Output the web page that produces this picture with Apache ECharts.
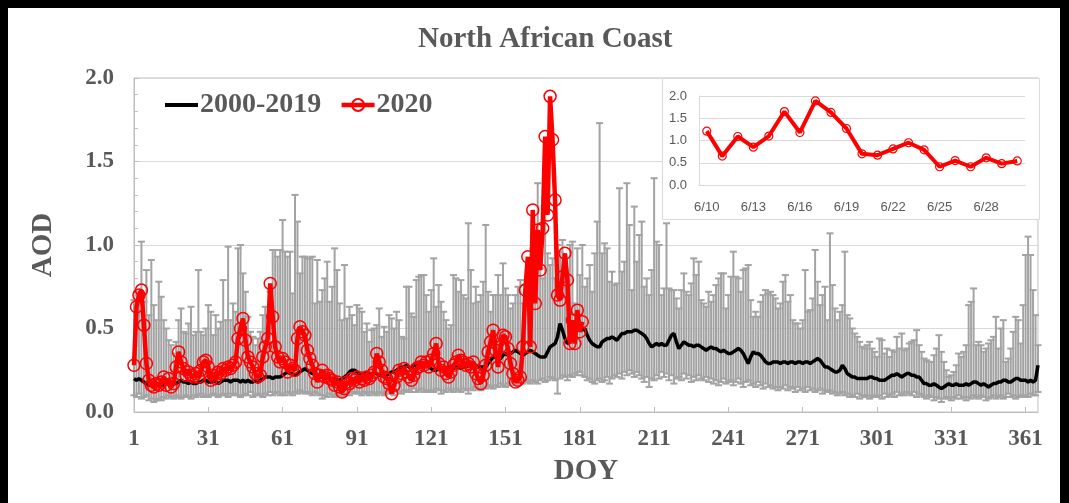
<!DOCTYPE html>
<html>
<head>
<meta charset="utf-8">
<script src="https://cdn.jsdelivr.net/npm/echarts@6/dist/echarts.min.js"></script>
<style>
html,body{margin:0;padding:0;background:#fff;}
#wrap{position:relative;width:1069px;height:503px;overflow:hidden;}
#chart{position:absolute;left:0;top:0;width:1069px;height:503px;}
.frame{position:absolute;background:#000;}
</style>
</head>
<body>
<div id="wrap">
<div id="chart"></div>
<div class="frame" style="left:0;top:0;width:1069px;height:8px;"></div>
<div class="frame" style="left:0;top:0;width:8px;height:503px;"></div>
<div class="frame" style="left:1060px;top:0;width:9px;height:503px;"></div>
</div>
<script>
// ---- DATA ----
const TITLE = 'North African Coast';
const SERIES_NAMES = ['2000-2019', '2020'];
const Y_TICKS = [0.0, 0.5, 1.0, 1.5, 2.0];
// Day-of-year categories 1..366
const DOY = Array.from({length: 366}, (_, i) => String(i + 1));

// 2000-2019 mean AOD
const MEAN = [
0.20,0.19,0.20,0.19,0.18,0.17,0.16,0.16,0.17,0.16,
0.16,0.17,0.16,0.17,0.17,0.18,0.17,0.17,0.18,0.19,
0.18,0.18,0.17,0.18,0.17,0.17,0.18,0.18,0.19,0.19,
0.18,0.18,0.19,0.18,0.17,0.18,0.19,0.19,0.19,0.18,
0.19,0.19,0.19,0.18,0.19,0.18,0.19,0.18,0.18,0.19,
0.18,0.19,0.20,0.21,0.21,0.21,0.20,0.21,0.21,0.21,
0.22,0.23,0.24,0.23,0.23,0.22,0.23,0.24,0.25,0.26,
0.25,0.24,0.23,0.23,0.22,0.21,0.21,0.20,0.21,0.20,
0.20,0.20,0.19,0.19,0.20,0.21,0.22,0.24,0.25,0.25,
0.24,0.23,0.23,0.23,0.23,0.23,0.22,0.23,0.23,0.22,
0.22,0.21,0.22,0.23,0.24,0.24,0.25,0.26,0.27,0.27,
0.28,0.27,0.26,0.28,0.28,0.27,0.27,0.28,0.28,0.27,
0.26,0.25,0.25,0.26,0.26,0.25,0.26,0.27,0.27,0.26,
0.27,0.27,0.26,0.27,0.27,0.28,0.27,0.27,0.28,0.27,
0.27,0.27,0.27,0.29,0.31,0.33,0.33,0.31,0.32,0.34,
0.35,0.34,0.35,0.36,0.37,0.36,0.35,0.34,0.35,0.36,
0.37,0.36,0.35,0.34,0.33,0.33,0.33,0.36,0.39,0.40,
0.41,0.45,0.53,0.49,0.44,0.41,0.42,0.46,0.47,0.50,
0.51,0.49,0.50,0.46,0.43,0.41,0.40,0.39,0.39,0.42,
0.43,0.44,0.44,0.45,0.44,0.43,0.45,0.47,0.47,0.48,
0.48,0.48,0.49,0.49,0.48,0.47,0.46,0.44,0.41,0.39,
0.40,0.41,0.40,0.41,0.40,0.40,0.43,0.46,0.47,0.42,
0.38,0.40,0.42,0.41,0.40,0.40,0.39,0.40,0.40,0.39,
0.38,0.37,0.38,0.39,0.38,0.38,0.37,0.36,0.37,0.36,
0.35,0.35,0.36,0.37,0.38,0.37,0.35,0.32,0.29,0.33,
0.36,0.35,0.35,0.34,0.32,0.30,0.29,0.29,0.30,0.30,
0.30,0.29,0.30,0.30,0.29,0.30,0.30,0.29,0.30,0.30,
0.29,0.30,0.30,0.29,0.30,0.31,0.32,0.31,0.29,0.27,
0.27,0.26,0.25,0.24,0.24,0.25,0.28,0.26,0.23,0.22,
0.21,0.21,0.20,0.20,0.20,0.20,0.20,0.21,0.21,0.20,
0.20,0.19,0.19,0.19,0.20,0.21,0.22,0.22,0.23,0.22,
0.21,0.22,0.23,0.23,0.22,0.22,0.21,0.21,0.19,0.17,
0.17,0.16,0.16,0.17,0.16,0.15,0.14,0.15,0.16,0.17,
0.16,0.16,0.17,0.16,0.16,0.16,0.17,0.16,0.17,0.18,
0.18,0.17,0.16,0.17,0.16,0.15,0.16,0.17,0.17,0.18,
0.18,0.19,0.19,0.18,0.18,0.19,0.20,0.20,0.19,0.19,
0.19,0.18,0.19,0.18,0.19,0.28
];

// Error bar upper ends
const UPPER = [
0.67,0.72,0.70,1.02,0.66,0.85,0.58,0.91,0.64,0.55,
0.78,0.69,0.55,0.50,0.43,0.40,0.35,0.42,0.55,0.62,
0.48,0.47,0.53,0.63,0.46,0.48,0.85,0.48,0.46,0.50,
0.64,0.60,0.46,0.58,0.50,0.54,0.79,0.55,0.99,0.55,
0.65,0.60,0.98,1.00,0.83,0.72,0.57,0.48,0.45,0.40,
0.44,0.48,0.58,0.63,0.50,0.72,0.97,0.97,0.93,0.97,
1.15,0.96,0.93,0.96,0.71,1.30,1.14,0.83,0.93,0.93,
0.92,0.92,0.93,0.65,0.91,0.66,0.73,0.80,0.90,0.66,
0.75,0.98,0.85,0.65,0.55,0.88,0.56,0.63,0.58,0.52,
0.64,0.62,0.60,0.48,0.53,0.42,0.49,0.50,0.52,0.62,
0.45,0.51,0.48,0.58,0.56,0.50,0.60,0.55,0.45,0.44,
0.75,0.75,0.59,0.57,0.79,0.81,0.82,0.82,0.70,0.60,
0.73,0.92,0.63,0.76,0.66,0.60,0.55,0.50,0.52,0.82,
0.80,0.72,0.79,0.70,0.68,1.13,0.85,0.65,0.75,0.66,
0.70,0.78,1.12,0.72,0.60,0.70,0.70,0.82,0.70,0.89,
0.74,0.70,0.62,0.65,0.70,0.75,0.79,0.65,0.76,0.80,
0.76,0.98,0.88,1.37,0.86,0.80,1.21,0.95,0.88,0.92,
0.80,1.00,0.96,1.03,0.85,0.75,1.00,1.02,0.65,0.98,
0.82,1.00,0.75,0.80,0.88,0.72,0.95,1.14,1.73,0.95,
1.01,0.98,0.78,0.84,0.76,0.77,1.34,0.84,0.90,1.37,
1.12,0.73,1.23,0.90,1.06,1.14,0.75,0.80,0.70,0.85,
1.40,1.02,1.00,0.70,0.74,1.13,0.74,0.73,0.73,0.68,
0.62,0.73,0.83,0.72,0.70,0.77,0.92,0.82,0.90,0.67,
0.65,0.63,0.72,0.66,0.70,0.76,0.80,0.83,0.83,0.62,
0.70,0.81,0.96,0.81,0.80,0.72,0.85,0.86,0.88,0.67,
0.57,0.60,0.57,0.66,0.70,0.73,0.71,0.72,0.70,0.68,
0.62,0.65,0.78,0.82,0.66,0.70,0.55,0.53,0.53,0.50,
0.55,0.85,0.60,0.61,0.68,0.97,0.78,0.64,0.70,0.75,
0.55,1.07,0.76,0.62,0.55,0.60,0.64,0.96,0.58,0.56,
0.50,0.47,0.45,0.42,0.39,0.38,0.40,0.42,0.38,0.36,
0.33,0.44,0.43,0.35,0.38,0.33,0.37,0.36,0.45,0.38,
0.47,0.37,0.38,0.41,0.42,0.43,0.49,0.40,0.36,0.32,
0.31,0.30,0.30,0.34,0.38,0.46,0.36,0.30,0.25,0.21,
0.22,0.24,0.28,0.35,0.33,0.36,0.40,0.64,0.66,0.74,
0.40,0.42,0.40,0.36,0.38,0.41,0.43,0.45,0.57,0.38,
0.50,0.55,0.30,0.32,0.38,0.48,0.57,0.55,0.41,0.64,
0.94,1.05,0.94,0.73,0.58,0.40
];

// Error bar lower ends
const LOWER = [
0.10,0.09,0.11,0.08,0.09,0.10,0.07,0.08,0.06,0.07,
0.08,0.07,0.09,0.08,0.10,0.09,0.08,0.10,0.09,0.08,
0.09,0.10,0.09,0.08,0.10,0.09,0.10,0.11,0.09,0.10,
0.09,0.10,0.11,0.10,0.09,0.10,0.11,0.10,0.09,0.11,
0.10,0.11,0.10,0.09,0.10,0.11,0.10,0.12,0.09,0.10,
0.11,0.10,0.09,0.11,0.10,0.12,0.10,0.11,0.12,0.10,
0.11,0.10,0.12,0.11,0.10,0.12,0.11,0.13,0.12,0.11,
0.12,0.11,0.10,0.12,0.11,0.10,0.08,0.10,0.09,0.11,
0.10,0.09,0.11,0.10,0.09,0.10,0.11,0.10,0.12,0.11,
0.12,0.11,0.10,0.12,0.11,0.10,0.12,0.11,0.10,0.12,
0.11,0.10,0.12,0.11,0.12,0.10,0.13,0.12,0.11,0.13,
0.12,0.13,0.12,0.14,0.12,0.13,0.14,0.12,0.13,0.12,
0.13,0.12,0.14,0.13,0.11,0.13,0.12,0.14,0.13,0.12,
0.14,0.13,0.12,0.14,0.13,0.11,0.14,0.13,0.15,0.14,
0.13,0.15,0.14,0.16,0.15,0.14,0.16,0.15,0.17,0.16,
0.15,0.17,0.16,0.18,0.17,0.16,0.18,0.17,0.19,0.18,
0.17,0.19,0.18,0.17,0.19,0.20,0.18,0.19,0.21,0.20,
0.19,0.11,0.20,0.22,0.21,0.19,0.22,0.21,0.23,0.22,
0.24,0.22,0.21,0.19,0.20,0.18,0.17,0.19,0.20,0.18,
0.19,0.21,0.17,0.20,0.22,0.21,0.23,0.20,0.24,0.22,
0.25,0.23,0.21,0.24,0.22,0.20,0.18,0.21,0.15,0.20,
0.19,0.22,0.20,0.24,0.21,0.23,0.19,0.22,0.17,0.20,
0.21,0.19,0.23,0.20,0.22,0.18,0.21,0.19,0.22,0.20,
0.19,0.21,0.18,0.20,0.17,0.19,0.16,0.18,0.20,0.17,
0.18,0.19,0.16,0.18,0.20,0.17,0.15,0.18,0.19,0.16,
0.17,0.15,0.18,0.16,0.14,0.17,0.15,0.16,0.14,0.15,
0.13,0.15,0.14,0.16,0.13,0.15,0.14,0.12,0.15,0.13,
0.14,0.12,0.15,0.13,0.14,0.12,0.13,0.14,0.11,0.13,
0.12,0.13,0.11,0.12,0.10,0.11,0.12,0.10,0.11,0.09,
0.10,0.09,0.11,0.08,0.10,0.09,0.10,0.08,0.09,0.10,
0.09,0.10,0.08,0.11,0.09,0.10,0.11,0.09,0.12,0.10,
0.11,0.10,0.12,0.11,0.10,0.12,0.09,0.11,0.10,0.09,
0.08,0.10,0.09,0.07,0.09,0.08,0.06,0.08,0.09,0.08,
0.07,0.09,0.08,0.10,0.08,0.09,0.07,0.09,0.08,0.10,
0.09,0.08,0.10,0.09,0.07,0.08,0.09,0.10,0.08,0.09,
0.10,0.08,0.09,0.11,0.09,0.10,0.08,0.09,0.10,0.09,
0.10,0.09,0.11,0.10,0.10,0.12
];

// 2020 daily AOD, DOY 1..182
const AOD_2020 = [
0.28,0.63,0.70,0.73,0.52,0.29,0.19,0.16,0.15,0.17,
0.16,0.18,0.21,0.16,0.20,0.15,0.17,0.27,0.36,0.30,
0.26,0.22,0.24,0.22,0.21,0.23,0.21,0.25,0.30,0.31,
0.27,0.19,0.22,0.20,0.24,0.23,0.26,0.25,0.27,0.26,
0.28,0.30,0.44,0.50,0.56,0.43,0.33,0.30,0.27,0.23,
0.21,0.22,0.33,0.39,0.44,0.77,0.57,0.39,0.33,0.30,
0.32,0.30,0.24,0.28,0.26,0.25,0.44,0.51,0.48,0.46,
0.37,0.32,0.28,0.23,0.18,0.22,0.25,0.21,0.22,0.20,
0.19,0.16,0.18,0.15,0.12,0.14,0.18,0.17,0.20,0.19,
0.21,0.18,0.20,0.19,0.21,0.20,0.22,0.24,0.35,0.30,
0.25,0.21,0.20,0.17,0.11,0.16,0.21,0.25,0.23,0.26,
0.24,0.21,0.19,0.22,0.26,0.27,0.30,0.28,0.30,0.27,
0.31,0.35,0.41,0.29,0.25,0.27,0.23,0.21,0.24,0.28,
0.30,0.34,0.31,0.30,0.28,0.29,0.27,0.30,0.23,0.20,
0.17,0.22,0.28,0.36,0.42,0.49,0.37,0.27,0.39,0.46,
0.45,0.38,0.29,0.23,0.18,0.19,0.21,0.39,0.73,0.93,
0.39,1.21,0.65,1.09,0.85,1.10,1.65,1.18,1.89,1.63,
1.27,0.70,0.67,0.81,0.95,0.79,0.41,0.55,0.41,0.61,
0.48,0.54
];

// Inset: June 10 - June 30, 2020 (DOY 162..182)
const INSET_DATES = ['6/10','6/11','6/12','6/13','6/14','6/15','6/16','6/17','6/18','6/19','6/20',
                     '6/21','6/22','6/23','6/24','6/25','6/26','6/27','6/28','6/29','6/30'];
const INSET_START_DOY = 162;

// ---- CHART ----
const SERIF = "'Liberation Serif','Times New Roman',serif";
const SANS = "'Liberation Sans',Arial,sans-serif";
const GREY_TXT = '#595959';
const chart = echarts.init(document.getElementById('chart'), null, {renderer: 'canvas'});

const errData = DOY.map((d, i) => [i, LOWER[i], UPPER[i]]);
const insetValues = AOD_2020.slice(INSET_START_DOY - 1, INSET_START_DOY - 1 + INSET_DATES.length);

const option = {
  animation: false,
  backgroundColor: '#ffffff',
  title: {
    text: TITLE, left: 413, top: 20,
    textStyle: {fontFamily: SERIF, fontSize: 29, fontWeight: 'bold', color: GREY_TXT}
  },
  legend: {
    data: [
      {name: SERIES_NAMES[0], itemStyle: {color: 'rgba(0,0,0,0)', borderWidth: 0, opacity: 0},
       lineStyle: {width: 4, color: '#000000'}},
      {name: SERIES_NAMES[1], lineStyle: {width: 4.5, color: '#ff0000'}}
    ],
    left: 158, top: 86, itemWidth: 33, itemHeight: 15, itemGap: 18,
    textStyle: {fontFamily: SERIF, fontSize: 28, fontWeight: 'bold', color: GREY_TXT, padding: [0,0,0,-3]}
  },
  grid: [
    {left: 134, right: 31, top: 78, bottom: 91, show: true, borderColor: '#bfbfbf', borderWidth: 1},
    {left: 699, right: 44, top: 96, bottom: 318}
  ],
  xAxis: [
    {
      type: 'category', data: DOY, boundaryGap: false, gridIndex: 0,
      axisLine: {lineStyle: {color: '#bfbfbf', width: 1}},
      axisTick: {interval: 29, inside: true, length: 5, lineStyle: {color: '#bfbfbf'}},
      axisLabel: {interval: 29, margin: 16, fontFamily: SERIF, fontSize: 23, fontWeight: 'bold', color: GREY_TXT},
      splitLine: {show: false},
      name: 'DOY', nameLocation: 'middle', nameGap: 45,
      nameTextStyle: {fontFamily: SERIF, fontSize: 29, fontWeight: 'bold', color: GREY_TXT}
    },
    {
      type: 'category', data: INSET_DATES, boundaryGap: true, gridIndex: 1, z: 60,
      axisLine: {lineStyle: {color: '#d9d9d9', width: 1}},
      axisTick: {interval: 0, length: 4, inside: true, lineStyle: {color: '#d9d9d9'}},
      axisLabel: {interval: 2, margin: 16, fontFamily: SANS, fontSize: 13, color: GREY_TXT},
      splitLine: {show: false}
    }
  ],
  yAxis: [
    {
      type: 'value', min: 0, max: 2, interval: 0.5, gridIndex: 0,
      axisLine: {show: true, lineStyle: {color: '#bfbfbf', width: 1}},
      axisTick: {show: true, inside: true, length: 5, lineStyle: {color: '#bfbfbf'}},
      minorTick: {show: true, splitNumber: 5, length: 4, lineStyle: {color: '#bfbfbf'}},
      axisLabel: {margin: 20, fontFamily: SERIF, fontSize: 23, fontWeight: 'bold', color: GREY_TXT,
                  formatter: v => Number(v).toFixed(1)},
      splitLine: {lineStyle: {color: '#d9d9d9', width: 1}},
      name: 'AOD', nameLocation: 'middle', nameGap: 76, nameRotate: 90,
      nameTextStyle: {fontFamily: SERIF, fontSize: 29, fontWeight: 'bold', color: GREY_TXT}
    },
    {
      type: 'value', min: 0, max: 2, interval: 0.5, gridIndex: 1, z: 60,
      axisLine: {show: true, lineStyle: {color: '#d9d9d9', width: 1}},
      axisTick: {show: false},
      axisLabel: {margin: 12, fontFamily: SANS, fontSize: 13, color: GREY_TXT,
                  formatter: v => Number(v).toFixed(1)},
      splitLine: {lineStyle: {color: '#d9d9d9', width: 1}}
    }
  ],
  graphic: [
    {type: 'rect', z: 50, silent: true,
     shape: {x: 662.5, y: 78.5, width: 377, height: 141},
     style: {fill: '#ffffff', stroke: '#d9d9d9', lineWidth: 1}}
  ],
  series: [
    {
      name: 'range', type: 'custom', xAxisIndex: 0, yAxisIndex: 0, z: 1, silent: true,
      data: errData, encode: {x: 0, y: [1, 2]},
      renderItem: function (params, api) {
        const i = api.value(0);
        const lo = api.coord([i, api.value(1)]);
        const hi = api.coord([i, api.value(2)]);
        const hw = 3.5;
        const st = {stroke: '#a3a3a3', lineWidth: 2};
        return {
          type: 'group',
          children: [
            {type: 'line', shape: {x1: lo[0], y1: lo[1], x2: hi[0], y2: hi[1]}, style: st},
            {type: 'line', shape: {x1: hi[0] - hw, y1: hi[1], x2: hi[0] + hw, y2: hi[1]}, style: st},
            {type: 'line', shape: {x1: lo[0] - hw, y1: lo[1], x2: lo[0] + hw, y2: lo[1]}, style: st}
          ]
        };
      }
    },
    {
      name: SERIES_NAMES[0], type: 'line', xAxisIndex: 0, yAxisIndex: 0, z: 3,
      data: MEAN, symbol: 'none', smooth: false,
      lineStyle: {color: '#000000', width: 3.5}, itemStyle: {color: '#000000'}
    },
    {
      name: SERIES_NAMES[1], type: 'line', xAxisIndex: 0, yAxisIndex: 0, z: 4,
      data: AOD_2020, symbol: 'circle', symbolSize: 12, showAllSymbol: true,
      lineStyle: {color: '#ff0000', width: 4.5},
      itemStyle: {color: 'rgba(255,255,255,0)', borderColor: '#ff0000', borderWidth: 1.5}
    },
    {
      name: 'inset', type: 'line', xAxisIndex: 1, yAxisIndex: 1, z: 70,
      data: insetValues, symbol: 'circle', symbolSize: 8, showAllSymbol: true,
      lineStyle: {color: '#ff0000', width: 4},
      itemStyle: {color: 'rgba(255,255,255,0)', borderColor: '#ff0000', borderWidth: 1.2}
    }
  ]
};
chart.setOption(option);
</script>
</body>
</html>
